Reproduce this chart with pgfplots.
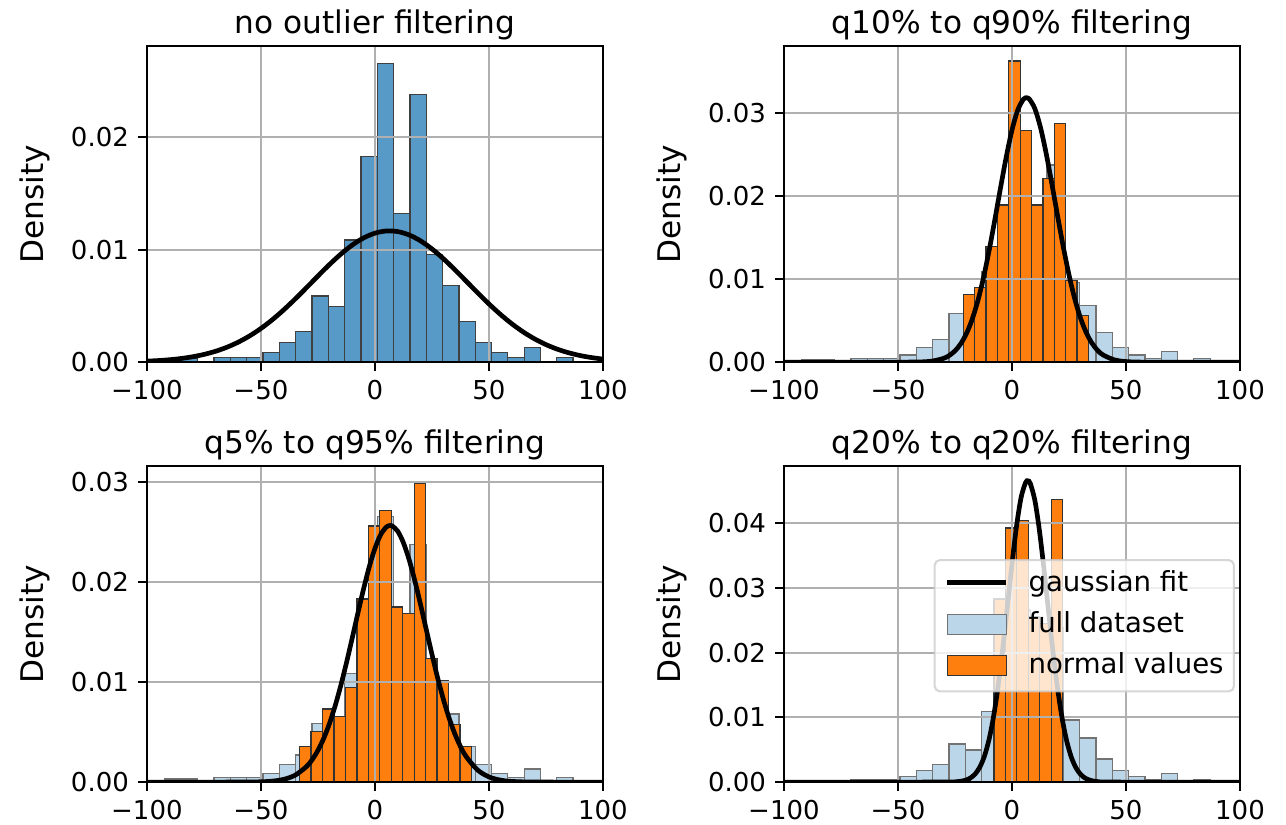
\documentclass[border=0pt]{standalone}
\usepackage{pgfplots}
\usepackage{pgfplotstable}
\pgfplotsset{compat=1.18}
\usepackage{fontspec}
\setmainfont{DejaVu Sans}

\definecolor{histblue}{RGB}{87,153,199}
\definecolor{lightblue}{RGB}{188,214,233}
\definecolor{mplorange}{RGB}{255,127,14}
\definecolor{gridgray}{RGB}{176,176,176}

% full dataset: left bin edges and densities (last row closes the final bin)
\pgfplotstableread{
x y
-92.08 0.00030
-84.92 0.00030
-77.76 0
-70.60 0.00044
-63.44 0.00044
-56.28 0.00044
-49.12 0.00085
-41.96 0.00174
-34.80 0.00271
-27.64 0.00588
-20.48 0.00497
-13.32 0.01088
-6.16 0.01829
1.00 0.02659
8.16 0.01324
15.32 0.02379
22.48 0.00959
29.64 0.00682
36.80 0.00359
43.96 0.00174
51.12 0.00085
58.28 0.00044
65.44 0.00132
72.60 0
79.76 0.00044
86.92 0
}\fulldata

% q10 to q90
\pgfplotstableread{
x y
-21.30 0.00819
-16.32 0.00900
-11.34 0.01394
-6.36 0.01896
-1.38 0.03631
3.60 0.02791
8.58 0.01896
13.56 0.02217
18.54 0.02880
23.52 0.00992
28.50 0.00562
33.48 0
}\normB

% q5 to q95
\pgfplotstableread{
x y
-33.00 0.00357
-27.98 0.00507
-22.96 0.00730
-17.94 0.00657
-12.92 0.00947
-7.90 0.01830
-2.88 0.02563
2.14 0.02717
7.16 0.01750
12.18 0.01683
17.20 0.02990
22.22 0.01233
27.24 0.01017
32.26 0.00573
37.28 0.00357
42.30 0
}\normC

% q20 to q80
\pgfplotstableread{
x y
-7.90 0.02826
-2.88 0.03923
2.14 0.04036
7.16 0.02550
12.18 0.02450
17.20 0.04370
22.22 0
}\normD

% gaussian fits
\pgfplotstableread{
x y
-100 0.0000924
-95 0.000144
-90 0.000220
-85 0.000328
-80 0.000480
-75 0.000688
-70 0.000963
-65 0.001321
-60 0.001774
-55 0.002331
-50 0.002998
-45 0.003775
-40 0.004653
-35 0.005614
-30 0.006629
-25 0.007663
-20 0.008671
-15 0.009603
-10 0.010411
-5 0.011048
0 0.011477
5 0.011670
10 0.011616
15 0.011316
20 0.010792
25 0.010074
30 0.009206
35 0.008233
40 0.007209
45 0.006178
50 0.005183
55 0.004255
60 0.003420
65 0.002691
70 0.002073
75 0.001562
80 0.001153
85 0.000833
90 0.000589
95 0.000408
100 0.000276
}\fitA

\pgfplotstableread{
x y
-100 0
-60 0
-50 0.0000012
-40 0.0000325
-35 0.000132
-30 0.000460
-27.5 0.000806
-25 0.001360
-22.5 0.002203
-20 0.003429
-17.5 0.005128
-15 0.007368
-12.5 0.010171
-10 0.013489
-7.5 0.017190
-5 0.021047
-2.5 0.024758
0 0.027981
2.5 0.030384
5 0.031701
6.5 0.031900
7.5 0.031777
10 0.030604
12.5 0.028319
15 0.025178
17.5 0.021507
20 0.017650
22.5 0.013917
25 0.010544
27.5 0.007675
30 0.005367
32.5 0.003607
35 0.002328
37.5 0.001444
40 0.000861
45 0.000271
50 0.0000728
60 0.0000017
100 0
}\fitB

\pgfplotstableread{
x y
-100 0
-60 0.0000024
-50 0.0000319
-45 0.0000985
-40 0.000274
-35 0.000688
-30 0.001556
-27.5 0.002250
-25 0.003171
-22.5 0.004353
-20 0.005821
-17.5 0.007588
-15 0.009634
-12.5 0.011919
-10 0.014367
-7.5 0.016873
-5 0.019305
-2.5 0.021524
0 0.023380
2.5 0.024745
5 0.025516
6.7 0.025670
7.5 0.025636
10 0.025095
12.5 0.023934
15 0.022241
17.5 0.020138
20 0.017764
22.5 0.015268
25 0.012786
27.5 0.010433
30 0.008294
32.5 0.006424
35 0.004848
37.5 0.003565
40 0.002554
45 0.001212
50 0.000519
55 0.000200
60 0.0000695
70 0.000006
100 0
}\fitC

\pgfplotstableread{
x y
-100 0
-30 0.0000044
-24 0.0000700
-22 0.000158
-20 0.000338
-18 0.000684
-16 0.001310
-14 0.002379
-12 0.004090
-10 0.006659
-8 0.010267
-6 0.014991
-4 0.020728
-2 0.027142
0 0.033657
2 0.039522
4 0.043951
6 0.046284
7 0.046537
8 0.046158
10 0.043593
12 0.038988
14 0.033021
16 0.026485
18 0.020116
20 0.014469
22 0.009856
24 0.006357
26 0.003883
28 0.002246
30 0.001231
32 0.000639
34 0.000314
36 0.000146
38 0.0000643
45 0.0000024
100 0
}\fitD

\tikzset{gridline/.style={gridgray, line width=0.8pt}}

\pgfplotsset{
  panel/.style={
    scale only axis, width=175.4pt, height=121.5pt,
    anchor=south west,
    xmin=-100, xmax=100, ymin=0,
    scaled y ticks=false, scaled x ticks=false,
    axis on top,
    tick align=outside, tick pos=left,
    major tick length=3.4pt,
    every tick/.style={black, line width=0.8pt},
    axis line style={line width=0.8pt},
    xtick={-100,-50,0,50,100},
    xticklabels={−100,−50,0,50,100},
    tick label style={font=\fontsize{10}{12}\selectfont},
    ylabel={Density},
    every axis y label/.style={at={(rel axis cs:0,0.5)}, anchor=base,
      xshift=-39.8pt, rotate=90, font=\fontsize{12}{14}\selectfont},
    every axis title/.style={at={(rel axis cs:0.5,1)}, anchor=base,
      yshift=5pt, font=\fontsize{12}{14}\selectfont},
  },
  fullhist/.style={ybar interval, fill=lightblue, draw=black!55, line width=0.5pt, forget plot},
  normhist/.style={ybar interval, fill=mplorange, draw=black!80, line width=0.5pt, forget plot},
  fit/.style={black, line width=1.8pt, smooth, forget plot},
}

\begin{document}
\begin{tikzpicture}
\path[use as bounding box] (0,0) rectangle (494.6pt,317.3pt);

% top left: raw data
\begin{axis}[panel, at={(56.5pt,178.0pt)}, ymax=0.0281,
  ytick={0,0.01,0.02}, yticklabels={0.00,0.01,0.02},
  title={no outlier filtering}]
\addplot[ybar interval, fill=histblue, draw=black!75, line width=0.5pt, forget plot] table {\fulldata};
\draw[gridline] (axis cs:-50,0) -- (axis cs:-50,0.0281);
\draw[gridline] (axis cs:0,0) -- (axis cs:0,0.0281);
\draw[gridline] (axis cs:50,0) -- (axis cs:50,0.0281);
\draw[gridline] (axis cs:-100,0.01) -- (axis cs:100,0.01);
\draw[gridline] (axis cs:-100,0.02) -- (axis cs:100,0.02);
\addplot[fit] table {\fitA};
\end{axis}

% top right
\begin{axis}[panel, at={(301.5pt,178.0pt)}, ymax=0.0381,
  ytick={0,0.01,0.02,0.03}, yticklabels={0.00,0.01,0.02,0.03},
  title={q10\% to q90\% filtering}]
\addplot[fullhist] table {\fulldata};
\addplot[normhist] table {\normB};
\draw[gridline] (axis cs:-50,0) -- (axis cs:-50,0.0381);
\draw[gridline] (axis cs:0,0) -- (axis cs:0,0.0381);
\draw[gridline] (axis cs:50,0) -- (axis cs:50,0.0381);
\draw[gridline] (axis cs:-100,0.01) -- (axis cs:100,0.01);
\draw[gridline] (axis cs:-100,0.02) -- (axis cs:100,0.02);
\draw[gridline] (axis cs:-100,0.03) -- (axis cs:100,0.03);
\addplot[fit] table {\fitB};
\end{axis}

% bottom left
\begin{axis}[panel, at={(56.5pt,16.5pt)}, ymax=0.0316,
  ytick={0,0.01,0.02,0.03}, yticklabels={0.00,0.01,0.02,0.03},
  title={q5\% to q95\% filtering}]
\addplot[fullhist] table {\fulldata};
\addplot[normhist] table {\normC};
\draw[gridline] (axis cs:-50,0) -- (axis cs:-50,0.0316);
\draw[gridline] (axis cs:0,0) -- (axis cs:0,0.0316);
\draw[gridline] (axis cs:50,0) -- (axis cs:50,0.0316);
\draw[gridline] (axis cs:-100,0.01) -- (axis cs:100,0.01);
\draw[gridline] (axis cs:-100,0.02) -- (axis cs:100,0.02);
\draw[gridline] (axis cs:-100,0.03) -- (axis cs:100,0.03);
\addplot[fit] table {\fitC};
\end{axis}

% bottom right
\begin{axis}[panel, at={(301.5pt,16.5pt)}, ymax=0.0488,
  ytick={0,0.01,0.02,0.03,0.04}, yticklabels={0.00,0.01,0.02,0.03,0.04},
  title={q20\% to q20\% filtering},
  legend style={at={(rel axis cs:0.989,0.706)}, anchor=north east,
    draw=black!20, fill=white, fill opacity=0.8, draw opacity=0.8, text opacity=1,
    rounded corners=2pt, line width=0.8pt,
    inner xsep=4pt, inner ysep=4.2pt, row sep=5.6pt,
    font=\fontsize{10.6}{12}\selectfont,
    nodes={inner sep=0pt, text height=7.8pt, text depth=2.5pt},
    cells={anchor=base west}}]
\addplot[fullhist] table {\fulldata};
\addplot[normhist] table {\normD};
\draw[gridline] (axis cs:-50,0) -- (axis cs:-50,0.0488);
\draw[gridline] (axis cs:0,0) -- (axis cs:0,0.0488);
\draw[gridline] (axis cs:50,0) -- (axis cs:50,0.0488);
\draw[gridline] (axis cs:-100,0.01) -- (axis cs:100,0.01);
\draw[gridline] (axis cs:-100,0.02) -- (axis cs:100,0.02);
\draw[gridline] (axis cs:-100,0.03) -- (axis cs:100,0.03);
\draw[gridline] (axis cs:-100,0.04) -- (axis cs:100,0.04);
\addplot[fit] table {\fitD};
\addlegendimage{legend image code/.code={
  \draw[black, line width=1.8pt, sharp corners, draw opacity=1] (0pt,3.3pt) -- (22.6pt,3.3pt);
  \path (30.8pt,0pt);}}
\addlegendentry{gaussian fit}
\addlegendimage{legend image code/.code={
  \draw[fill=lightblue, draw=black!55, line width=0.5pt, sharp corners, fill opacity=1, draw opacity=1] (0pt,-0.7pt) rectangle (22.6pt,7.1pt);
  \path (30.8pt,0pt);}}
\addlegendentry{full dataset}
\addlegendimage{legend image code/.code={
  \draw[fill=mplorange, draw=black!80, line width=0.5pt, sharp corners, fill opacity=1, draw opacity=1] (0pt,-0.7pt) rectangle (22.6pt,7.1pt);
  \path (30.8pt,0pt);}}
\addlegendentry{normal values}
\end{axis}
\end{tikzpicture}
\end{document}
